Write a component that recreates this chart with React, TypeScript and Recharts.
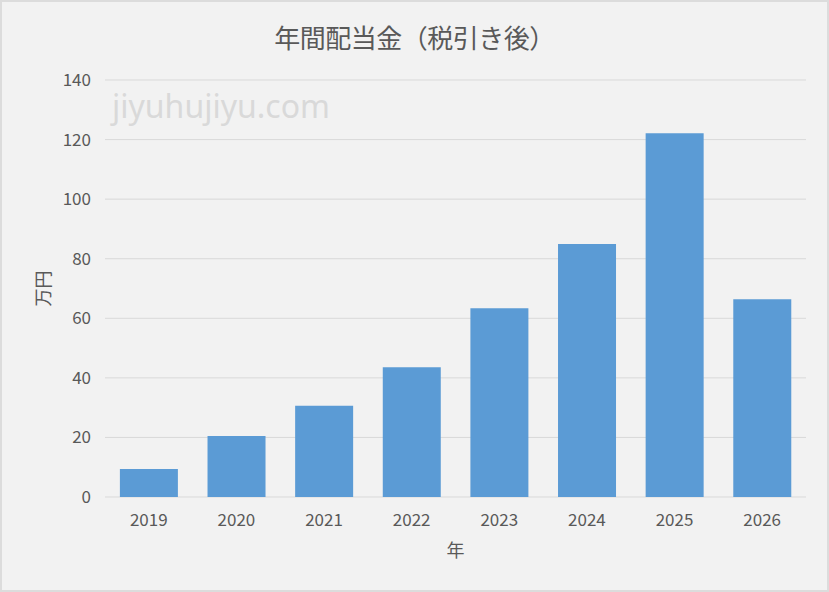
import React from 'react'
import { BarChart, Bar, XAxis, YAxis, CartesianGrid, Label } from 'recharts'

// Values (万円)
const YEARS = ['2019', '2020', '2021', '2022', '2023', '2024', '2025', '2026']
const DIVIDENDS = [9.4, 20.5, 30.6, 43.6, 63.4, 84.9, 122.1, 66.4]
const Y_TICKS = [0, 20, 40, 60, 80, 100, 120, 140]

const TITLE = '年間配当金（税引き後）'
const WATERMARK = 'jiyuhujiyu.com'

const FONT = '"Noto Sans CJK JP", "Noto Sans", sans-serif'
const TEXT = '#595959'

const data = YEARS.map((year, i) => ({ year, value: DIVIDENDS[i] }))

export default function App() {
  return (
    <div
      style={{
        position: 'fixed',
        left: 0,
        top: 0,
        width: 829,
        height: 592,
        boxSizing: 'border-box',
        background: '#f2f2f2',
        border: '2px solid #dcdcdc',
        fontFamily: FONT,
        overflow: 'hidden',
      }}
    >
      <div
        style={{
          position: 'absolute',
          top: 16,
          left: 0,
          width: 825,
          textAlign: 'center',
          fontSize: 26,
          lineHeight: '38px',
          color: TEXT,
          letterSpacing: -0.5,
        }}
      >
        {TITLE}
      </div>
      <div
        style={{
          position: 'absolute',
          top: 82,
          left: 110,
          fontSize: 32,
          lineHeight: '44px',
          color: '#d9d9d9',
          fontFamily: '"Noto Sans", sans-serif',
        }}
      >
        {WATERMARK}
      </div>
      <div style={{ position: 'absolute', left: -2, top: -2 }}>
        <BarChart
          width={829}
          height={592}
          data={data}
          margin={{ top: 80, right: 23, bottom: 33, left: 0 }}
          barCategoryGap="17%"
        >
          <CartesianGrid vertical={false} stroke="#d9d9d9" />
          <XAxis
            dataKey="year"
            height={62}
            axisLine={false}
            tickLine={false}
            tickSize={0}
            tickMargin={17}
            tick={{ fill: TEXT, fontSize: 17, fontFamily: FONT }}
          >
            <Label
              value="年"
              position="insideBottom"
              offset={2}
              style={{ fill: TEXT, fontSize: 18, fontFamily: FONT }}
            />
          </XAxis>
          <YAxis
            width={105}
            domain={[0, 140]}
            ticks={Y_TICKS}
            axisLine={false}
            tickLine={false}
            tickSize={0}
            tickMargin={14}
            tick={{ fill: TEXT, fontSize: 17, fontFamily: FONT }}
          >
            <Label
              value="万円"
              angle={-90}
              position="insideLeft"
              offset={44}
              style={{ fill: TEXT, fontSize: 18, fontFamily: FONT, textAnchor: 'middle' }}
            />
          </YAxis>
          <Bar dataKey="value" fill="#5b9bd5" isAnimationActive={false} />
        </BarChart>
      </div>
    </div>
  )
}
